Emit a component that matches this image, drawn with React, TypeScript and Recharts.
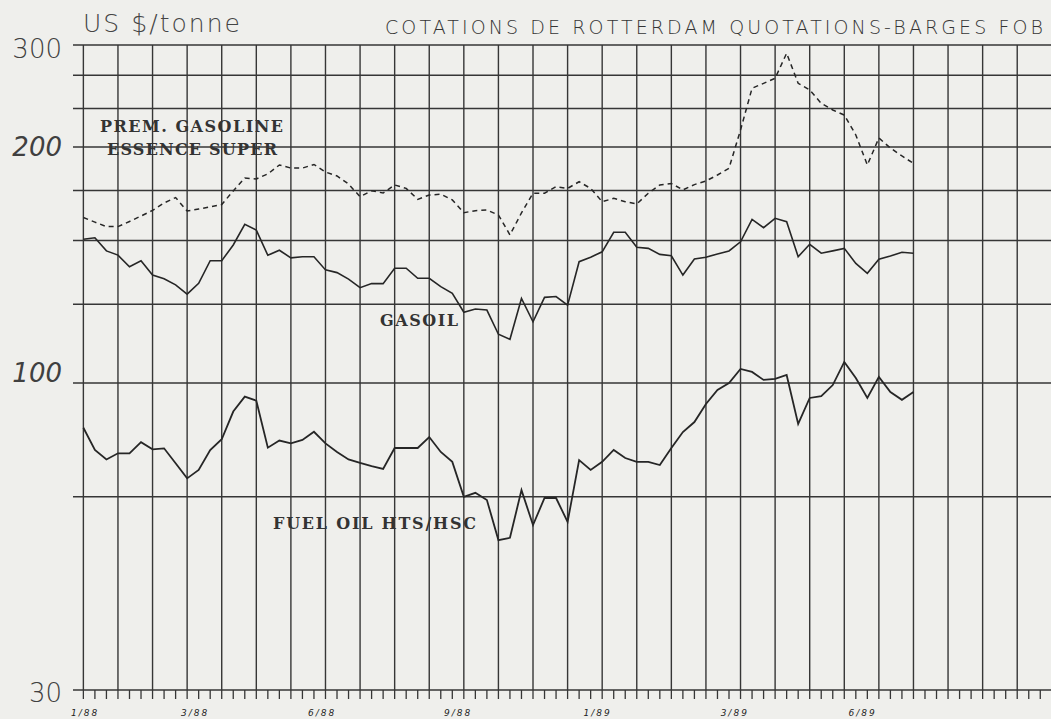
import React from 'react';
import { LineChart, Line, XAxis, YAxis, ReferenceLine } from 'recharts';

// Weekly quotations, US $/tonne (week index 0 = first week of Jan 1988)
const gasoline = [
  162.6, 160.4, 158.3, 158.3, 160.7, 163.3, 166.0, 169.7, 172.4, 165.7,
  166.7, 167.7, 168.9, 175.8, 182.6, 182.1, 184.8, 189.7, 188.0, 188.0,
  190.0, 185.8, 183.7, 179.4, 172.8, 175.9, 174.7, 178.9, 177.1, 171.5,
  173.7, 174.1, 171.2, 164.9, 165.9, 166.2, 163.8, 154.5, 164.8, 174.6,
  174.6, 178.0, 177.1, 180.6, 177.1, 170.3, 172.0, 170.3, 169.2, 174.6,
  178.9, 179.7, 176.3, 179.1, 181.0, 184.2, 187.9, 214.0, 252.6, 257.6,
  262.8, 290.3, 257.6, 250.9, 237.9, 231.7, 227.1, 209.8, 189.7, 207.3,
  199.4, 194.8, 190.6,
];
const gasoil = [
  152.5, 153.2, 147.4, 145.6, 140.7, 143.2, 137.3, 135.8, 133.4, 129.8,
  134.0, 143.2, 143.2, 150.0, 159.4, 156.7, 145.5, 147.7, 144.4, 144.9,
  144.9, 139.4, 138.3, 135.7, 132.3, 133.9, 133.9, 140.1, 140.1, 136.0,
  136.0, 132.7, 130.1, 123.1, 124.3, 123.9, 115.4, 113.7, 128.2, 119.7,
  128.6, 128.9, 125.7, 142.8, 144.7, 147.0, 155.7, 155.7, 149.0, 148.5,
  145.9, 145.3, 137.3, 143.9, 144.7, 146.1, 147.4, 151.4, 161.7, 157.8,
  162.2, 160.6, 144.9, 150.3, 146.4, 147.4, 148.5, 142.1, 138.0, 143.8,
  145.2, 146.8, 146.4,
];
const fuelOil = [
  83.9, 76.9, 74.1, 75.9, 75.9, 79.3, 77.1, 77.4, 73.0, 68.8,
  71.1, 76.9, 80.2, 89.4, 94.8, 93.3, 77.6, 79.8, 78.9, 80.0,
  82.6, 78.9, 76.3, 74.1, 73.1, 72.2, 71.4, 77.5, 77.5, 77.5,
  80.9, 76.3, 73.4, 64.0, 65.0, 63.2, 54.0, 54.5, 65.7, 57.3,
  63.7, 63.7, 58.0, 73.9, 71.1, 73.4, 76.9, 74.5, 73.4, 73.4,
  72.5, 77.5, 82.5, 85.8, 92.1, 97.3, 100.0, 104.2, 103.3, 100.9,
  101.2, 102.4, 85.2, 94.3, 95.0, 99.2, 106.4, 101.5, 94.3, 101.8,
  96.5, 93.6, 96.5,
];

// Axis labels
const Y_TICK_VALUES = [30, 100, 200, 300];
const Y_TICK_LABELS = ['30', '100', '200', '300'];
const Y_GRID_VALUES = [64, 100, 126, 152, 176, 200, 233, 266, 300];
const MONTH_LABELS = ['1/88', '3/88', '6/88', '9/88', '1/89', '3/89', '6/89'];
const MONTH_POS = [0.15, 9.7, 20.7, 32.5, 44.6, 56.5, 67.6];

// ---- layout / styling (not data) ----
const W = 1051;
const H = 719;
const PLOT_H = 645;
// heights (px above baseline) of the labelled values on the hand-drawn scale
const ANCHOR_H = [0, 307, 543, 645];
const Y_LABEL_DY = [12, -1, 8.5, 12.5];
const Y_LABEL_ITALIC = [false, true, true, false];
const INK = '#262626';
const GRID = '#363636';
const LIGHT_FONT = '"DejaVu Sans", "Lato", sans-serif';
const SLAB_FONT = '"DejaVu Serif", "Liberation Serif", serif';

function warp(v: number): number {
  const a = Y_TICK_VALUES;
  let k = 0;
  while (k < a.length - 2 && v > a[k + 1]) k++;
  return (
    ANCHOR_H[k] +
    ((ANCHOR_H[k + 1] - ANCHOR_H[k]) * Math.log(v / a[k])) / Math.log(a[k + 1] / a[k])
  );
}

const rows = gasoline.map((_, i) => ({
  i,
  gasoline: warp(gasoline[i]),
  gasoil: warp(gasoil[i]),
  fuel: warp(fuelOil[i]),
}));

const X_DOMAIN: [number, number] = [-0.9, 83.93];
const weekTicks = Array.from({ length: 84 }, (_, i) => i);
const gridWeeks = weekTicks.filter((i) => i % 3 === 0);

const YTick = (props: any) => {
  const { x, y, payload } = props;
  const idx = Y_TICK_VALUES.findIndex((v) => Math.abs(warp(v) - payload.value) < 0.01);
  if (idx < 0) return null;
  return (
    <text
      x={x - 11}
      y={y + Y_LABEL_DY[idx]}
      textAnchor="end"
      fontFamily={LIGHT_FONT}
      fontWeight={200}
      fontSize={26}
      fontStyle={Y_LABEL_ITALIC[idx] ? 'italic' : 'normal'}
      fill="#404040"
    >
      {Y_TICK_LABELS[idx]}
    </text>
  );
};

const XTick = (props: any) => {
  const { x, y, payload } = props;
  const mi = MONTH_POS.indexOf(payload.value);
  if (mi >= 0) {
    return (
      <text
        x={x}
        y={y + 26}
        textAnchor="middle"
        fontFamily='"DejaVu Sans", sans-serif'
        fontSize={9}
        fontStyle="italic"
        letterSpacing={2}
        fill="#222"
      >
        {MONTH_LABELS[mi]}
      </text>
    );
  }
  return <line x1={x} y1={y} x2={x} y2={y + 9} stroke={GRID} strokeWidth={1.3} />;
};

export default function App() {
  return (
    <div
      style={{
        position: 'fixed',
        left: 0,
        top: 0,
        width: W,
        height: H,
        overflow: 'hidden',
        background: '#efefec',
      }}
    >
      <LineChart
        width={W}
        height={H}
        data={rows}
        margin={{ top: 45, right: 0, bottom: 0, left: 0 }}
      >
        <XAxis
          dataKey="i"
          type="number"
          domain={X_DOMAIN}
          allowDataOverflow
          ticks={[...weekTicks, ...MONTH_POS]}
          interval={0}
          tickSize={0}
          tickMargin={0}
          tickLine={false}
          axisLine={{ stroke: GRID, strokeWidth: 1.5 }}
          height={29}
          tick={XTick}
        />
        <YAxis
          type="number"
          domain={[0, PLOT_H]}
          allowDataOverflow
          ticks={Y_TICK_VALUES.map(warp)}
          interval={0}
          width={73}
          axisLine={false}
          tickLine={false}
          tickSize={0}
          tickMargin={0}
          tick={YTick}
        />
        {gridWeeks.map((g) => (
          <ReferenceLine key={'v' + g} x={g} stroke={GRID} strokeWidth={1.4} />
        ))}
        {Y_GRID_VALUES.map((v) => (
          <ReferenceLine key={'h' + v} y={warp(v)} stroke={GRID} strokeWidth={1.5} />
        ))}
        <Line
          dataKey="gasoline"
          type="linear"
          stroke={INK}
          strokeWidth={1.5}
          strokeDasharray="5 4"
          dot={false}
          isAnimationActive={false}
        />
        <Line
          dataKey="gasoil"
          type="linear"
          stroke={INK}
          strokeWidth={1.6}
          dot={false}
          isAnimationActive={false}
        />
        <Line
          dataKey="fuel"
          type="linear"
          stroke={INK}
          strokeWidth={1.8}
          dot={false}
          isAnimationActive={false}
        />
      </LineChart>
      <svg
        width={W}
        height={H}
        style={{ position: 'absolute', left: 0, top: 0, pointerEvents: 'none' }}
      >
        <text
          x={83}
          y={32}
          fontFamily={LIGHT_FONT}
          fontWeight={200}
          fontSize={25}
          fill="#444"
          textLength={157}
          lengthAdjust="spacing"
        >
          US $/tonne
        </text>
        <text
          x={385}
          y={34}
          fontFamily={LIGHT_FONT}
          fontWeight={200}
          fontSize={19}
          fill="#353535"
          textLength={658}
          lengthAdjust="spacing"
        >
          COTATIONS DE ROTTERDAM QUOTATIONS-BARGES FOB
        </text>
        <g fontFamily={SLAB_FONT} fontWeight="bold" fontSize={16} fill="#333">
          <text x={100} y={132} textLength={183} lengthAdjust="spacing">
            PREM. GASOLINE
          </text>
          <text x={107} y={155} textLength={170} lengthAdjust="spacing">
            ESSENCE SUPER
          </text>
          <text x={380} y={326} textLength={78} lengthAdjust="spacing">
            GASOIL
          </text>
          <text x={273} y={529} textLength={203} lengthAdjust="spacing">
            FUEL OIL HTS/HSC
          </text>
        </g>
      </svg>
    </div>
  );
}
